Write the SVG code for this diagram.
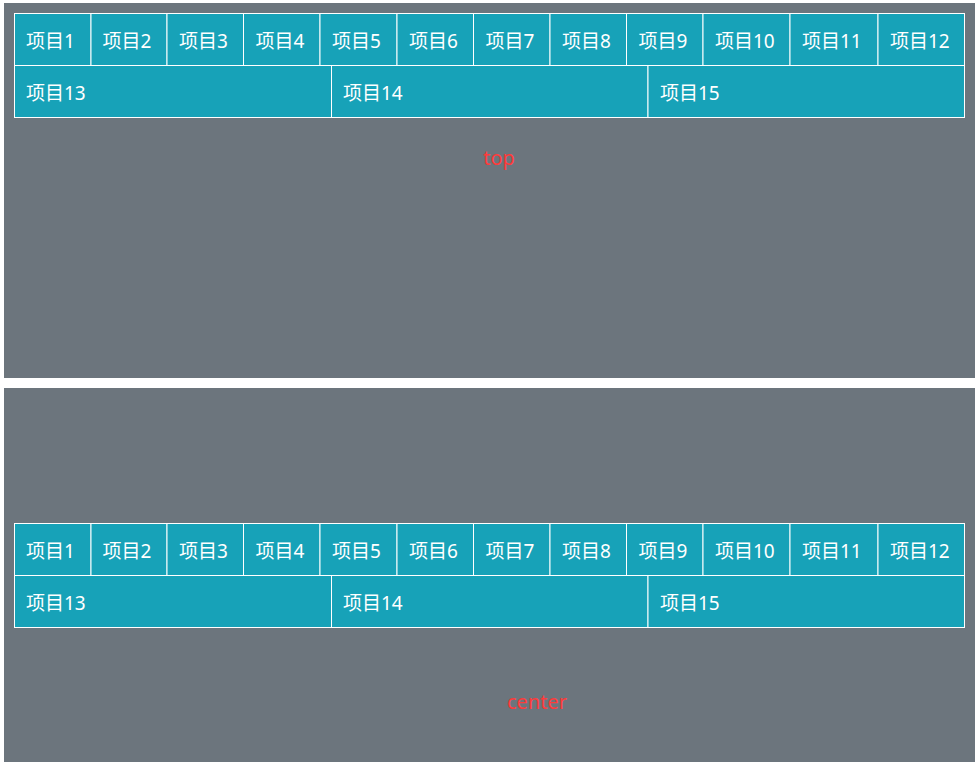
<svg xmlns="http://www.w3.org/2000/svg" width="979" height="766" viewBox="0 0 979 766">
<style>
.panel{fill:#6c757d}
.cell rect{fill:#17a2b8;stroke:#ffffff;stroke-width:1}
.cell text{fill:#ffffff;font-family:"Noto Sans","Noto Sans CJK SC",sans-serif;font-size:19px}
.lbl{fill:#ff3b3b;font-family:"Noto Sans","Open Sans",sans-serif;font-size:20px;text-anchor:middle}
</style>
<rect width="979" height="766" fill="#ffffff"/>
<g id="panel-top">
<rect class="panel" x="4" y="3" width="971" height="375"/>
<g id="t1" class="cell"><rect x="14.5" y="13.5" width="76.5" height="52"/><text x="26" y="48">项目1</text></g>
<g id="t2" class="cell"><rect x="91" y="13.5" width="76" height="52"/><text x="102.5" y="48">项目2</text></g>
<g id="t3" class="cell"><rect x="167" y="13.5" width="76.5" height="52"/><text x="179" y="48">项目3</text></g>
<g id="t4" class="cell"><rect x="243.5" y="13.5" width="76.5" height="52"/><text x="255.5" y="48">项目4</text></g>
<g id="t5" class="cell"><rect x="320" y="13.5" width="77" height="52"/><text x="332" y="48">项目5</text></g>
<g id="t6" class="cell"><rect x="397" y="13.5" width="76.5" height="52"/><text x="409" y="48">项目6</text></g>
<g id="t7" class="cell"><rect x="473.5" y="13.5" width="76.5" height="52"/><text x="485.5" y="48">项目7</text></g>
<g id="t8" class="cell"><rect x="550" y="13.5" width="76.5" height="52"/><text x="562" y="48">项目8</text></g>
<g id="t9" class="cell"><rect x="626.5" y="13.5" width="76.5" height="52"/><text x="638.5" y="48">项目9</text></g>
<g id="t10" class="cell"><rect x="703" y="13.5" width="87" height="52"/><text x="715" y="48">项目10</text></g>
<g id="t11" class="cell"><rect x="790" y="13.5" width="88" height="52"/><text x="802" y="48">项目11</text></g>
<g id="t12" class="cell"><rect x="878" y="13.5" width="86.5" height="52"/><text x="890" y="48">项目12</text></g>
<g id="t13" class="cell"><rect x="14.5" y="65.5" width="317" height="52"/><text x="26" y="100">项目13</text></g>
<g id="t14" class="cell"><rect x="331.5" y="65.5" width="316.5" height="52"/><text x="343" y="100">项目14</text></g>
<g id="t15" class="cell"><rect x="648" y="65.5" width="316.5" height="52"/><text x="660" y="100">项目15</text></g>
<text class="lbl" x="499" y="165">top</text>
</g>
<g id="panel-center">
<rect class="panel" x="4" y="388" width="971" height="374"/>
<g id="c1" class="cell"><rect x="14.5" y="523.5" width="76.5" height="52"/><text x="26" y="558">项目1</text></g>
<g id="c2" class="cell"><rect x="91" y="523.5" width="76" height="52"/><text x="102.5" y="558">项目2</text></g>
<g id="c3" class="cell"><rect x="167" y="523.5" width="76.5" height="52"/><text x="179" y="558">项目3</text></g>
<g id="c4" class="cell"><rect x="243.5" y="523.5" width="76.5" height="52"/><text x="255.5" y="558">项目4</text></g>
<g id="c5" class="cell"><rect x="320" y="523.5" width="77" height="52"/><text x="332" y="558">项目5</text></g>
<g id="c6" class="cell"><rect x="397" y="523.5" width="76.5" height="52"/><text x="409" y="558">项目6</text></g>
<g id="c7" class="cell"><rect x="473.5" y="523.5" width="76.5" height="52"/><text x="485.5" y="558">项目7</text></g>
<g id="c8" class="cell"><rect x="550" y="523.5" width="76.5" height="52"/><text x="562" y="558">项目8</text></g>
<g id="c9" class="cell"><rect x="626.5" y="523.5" width="76.5" height="52"/><text x="638.5" y="558">项目9</text></g>
<g id="c10" class="cell"><rect x="703" y="523.5" width="87" height="52"/><text x="715" y="558">项目10</text></g>
<g id="c11" class="cell"><rect x="790" y="523.5" width="88" height="52"/><text x="802" y="558">项目11</text></g>
<g id="c12" class="cell"><rect x="878" y="523.5" width="86.5" height="52"/><text x="890" y="558">项目12</text></g>
<g id="c13" class="cell"><rect x="14.5" y="575.5" width="317" height="52"/><text x="26" y="610">项目13</text></g>
<g id="c14" class="cell"><rect x="331.5" y="575.5" width="316.5" height="52"/><text x="343" y="610">项目14</text></g>
<g id="c15" class="cell"><rect x="648" y="575.5" width="316.5" height="52"/><text x="660" y="610">项目15</text></g>
<text class="lbl" x="537" y="709">center</text>
</g>
</svg>
